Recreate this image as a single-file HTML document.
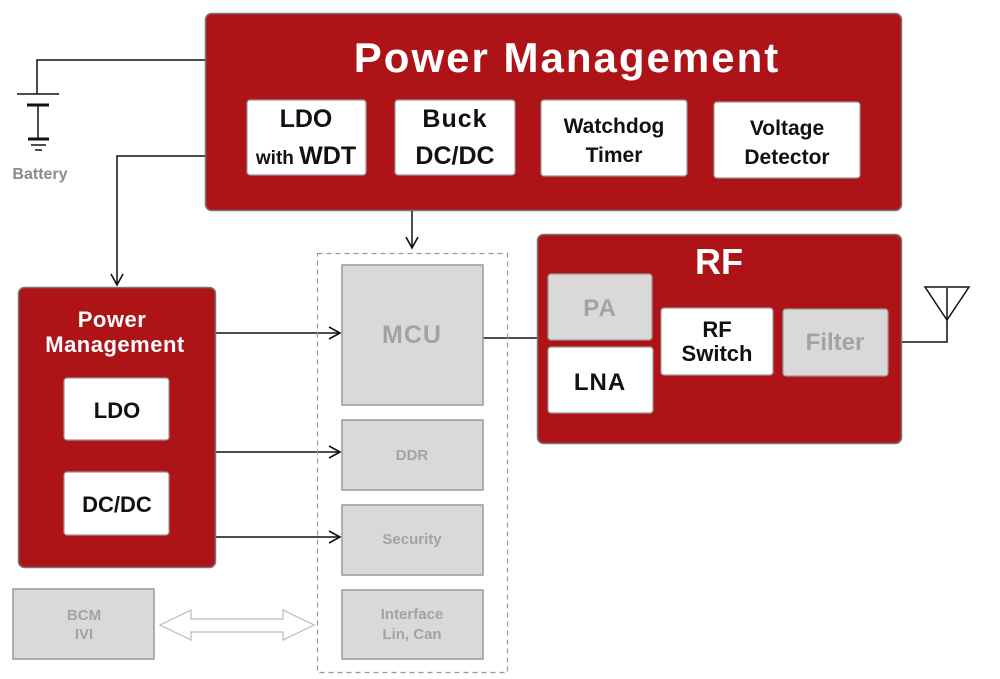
<!DOCTYPE html>
<html><head><meta charset="utf-8"><style>
html,body{margin:0;padding:0;background:#fff;}
svg{display:block;font-family:"Liberation Sans",sans-serif;font-weight:bold;}
</style></head><body>
<svg width="1000" height="679" viewBox="0 0 1000 679" xmlns="http://www.w3.org/2000/svg">
<defs>
<marker id="ar" markerWidth="14" markerHeight="14" refX="12" refY="7" orient="auto" markerUnits="userSpaceOnUse">
<path d="M1,1 L12,7 L1,13" fill="none" stroke="#111" stroke-width="1.6"/>
</marker>
</defs>
<rect x="205.5" y="13.5" width="696" height="197" rx="6" fill="#ae1417" stroke="#777" stroke-width="1.5"/>
<text x="567" y="72" font-size="42" letter-spacing="2" fill="#fff" text-anchor="middle">Power Management</text>
<g stroke="#999" stroke-width="1.2" fill="#fff">
<rect x="247" y="100" width="119" height="75" rx="3"/>
<rect x="395" y="100" width="120" height="75" rx="3"/>
<rect x="541" y="100" width="146" height="76" rx="3"/>
<rect x="714" y="102" width="146" height="76" rx="3"/>
</g>
<g fill="#111" text-anchor="middle">
<text x="306" y="127" font-size="25">LDO</text>
<text x="306" y="164" font-size="25"><tspan font-size="19">with </tspan>WDT</text>
<text x="455" y="127" font-size="25" letter-spacing="1">Buck</text>
<text x="455" y="164" font-size="25">DC/DC</text>
<text x="614" y="133" font-size="21">Watchdog</text>
<text x="614" y="162" font-size="21">Timer</text>
<text x="787" y="135" font-size="21">Voltage</text>
<text x="787" y="164" font-size="21">Detector</text>
</g>
<g stroke="#111" stroke-width="1.5" fill="none">
<polyline points="205,60 37,60 37,94"/>
<line x1="17" y1="94" x2="59" y2="94"/>
<line x1="27" y1="105" x2="49" y2="105" stroke-width="3"/>
<line x1="38" y1="105" x2="38" y2="139"/>
<line x1="28" y1="139" x2="49" y2="139" stroke-width="3"/>
<line x1="31" y1="145" x2="46" y2="145"/>
<line x1="35" y1="150" x2="42" y2="150"/>
</g>
<text x="40" y="179" font-size="16" fill="#8a8a8a" text-anchor="middle">Battery</text>
<g stroke="#111" stroke-width="1.5" fill="none">
<polyline points="205,156 117,156 117,285" marker-end="url(#ar)"/>
<line x1="412" y1="211" x2="412" y2="248" marker-end="url(#ar)"/>
<line x1="215" y1="333" x2="340" y2="333" marker-end="url(#ar)"/>
<line x1="215" y1="452" x2="340" y2="452" marker-end="url(#ar)"/>
<line x1="215" y1="537" x2="340" y2="537" marker-end="url(#ar)"/>
<line x1="483" y1="338" x2="537" y2="338"/>
<polyline points="901,342 947,342 947,288"/>
<polygon points="925,287 969,287 947,320"/>
</g>
<rect x="317.5" y="253.5" width="190" height="419" fill="none" stroke="#999" stroke-width="1.2" stroke-dasharray="5,4"/>
<g fill="#d9d9d9" stroke="#999" stroke-width="1.5">
<rect x="342" y="265" width="141" height="140"/>
<rect x="342" y="420" width="141" height="70"/>
<rect x="342" y="505" width="141" height="70"/>
<rect x="342" y="590" width="141" height="69"/>
<rect x="13" y="589" width="141" height="70"/>
</g>
<g fill="#a3a3a3" text-anchor="middle">
<text x="412" y="343" font-size="25" letter-spacing="1">MCU</text>
<text x="412" y="460" font-size="15">DDR</text>
<text x="412" y="544" font-size="15">Security</text>
<text x="412" y="619" font-size="15">Interface</text>
<text x="412" y="639" font-size="15">Lin, Can</text>
<text x="84" y="620" font-size="15">BCM</text>
<text x="84" y="639" font-size="15">IVI</text>
</g>
<polygon points="160,625 191,610 191,619 283,619 283,610 314,625 283,640 283,632 191,632 191,640" fill="#fff" stroke="#bbb" stroke-width="1.2"/>
<rect x="18.5" y="287.5" width="197" height="280" rx="6" fill="#ae1417" stroke="#777" stroke-width="1.5"/>
<text x="112" y="327" font-size="22" letter-spacing="0.5" fill="#fff" text-anchor="middle">Power</text>
<text x="115" y="352" font-size="22" letter-spacing="0.5" fill="#fff" text-anchor="middle">Management</text>
<g stroke="#999" stroke-width="1.2" fill="#fff">
<rect x="64" y="378" width="105" height="62" rx="3"/>
<rect x="64" y="472" width="105" height="63" rx="3"/>
</g>
<text x="117" y="418" font-size="22" fill="#111" text-anchor="middle">LDO</text>
<text x="117" y="512" font-size="22" fill="#111" text-anchor="middle">DC/DC</text>
<rect x="537.5" y="234.5" width="364" height="209" rx="6" fill="#ae1417" stroke="#777" stroke-width="1.5"/>
<text x="719" y="274" font-size="36" fill="#fff" text-anchor="middle">RF</text>
<g stroke="#999" stroke-width="1.2">
<rect x="548" y="274" width="104" height="66" rx="3" fill="#d9d9d9"/>
<rect x="548" y="347" width="105" height="66" rx="3" fill="#fff"/>
<rect x="661" y="308" width="112" height="67" rx="3" fill="#fff"/>
<rect x="783" y="309" width="105" height="67" rx="3" fill="#d9d9d9"/>
</g>
<g text-anchor="middle">
<text x="600" y="316" font-size="24" letter-spacing="1" fill="#a3a3a3">PA</text>
<text x="600" y="390" font-size="24" letter-spacing="1" fill="#111">LNA</text>
<text x="717" y="337" font-size="22" fill="#111">RF</text>
<text x="717" y="361" font-size="22" fill="#111">Switch</text>
<text x="835" y="350" font-size="24" fill="#a3a3a3">Filter</text>
</g>
</svg>
</body></html>
